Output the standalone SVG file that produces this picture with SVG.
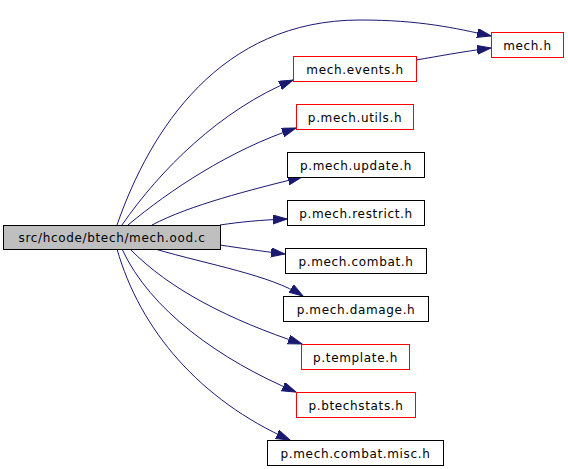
<svg xmlns="http://www.w3.org/2000/svg" width="568" height="469" viewBox="0 0 568 469">
<style>
.n rect{fill:#fff;stroke:#000;stroke-width:1}
.n.r rect{stroke:#f00}
.n.m rect{fill:#bfbfbf}
.n text{font-family:"DejaVu Sans",sans-serif;font-size:12px;letter-spacing:0.65px;text-anchor:middle;fill:#000}
.e path{fill:none;stroke:#191970;stroke-width:1;marker-end:url(#a)}
</style>
<defs>
<marker id="a" markerUnits="userSpaceOnUse" markerWidth="15" markerHeight="10" refX="14" refY="4.5" orient="auto" viewBox="0 0 15 10">
<path d="M0,0 L14,4.5 L0,9 z" fill="#191970" stroke="#191970"/>
</marker>
</defs>
<rect width="568" height="469" fill="#fff"/>
<g id="edges" class="e">
<path d="M117,225 C150,130 220,20 360,20 C420,20 455,28 491,36"/>
<path d="M122,225 C160,170 220,110 293,80"/>
<path d="M416,60 C440,56 460,52 491,48"/>
<path d="M128,225 C170,190 230,150 296,128"/>
<path d="M152,225 C190,205 250,190 302,177"/>
<path d="M220,225 C240,222 260,220 287,219"/>
<path d="M220,245 C240,248 260,251 285,254"/>
<path d="M155,249 C210,265 270,275 303,296"/>
<path d="M130,249 C170,290 230,320 302,344"/>
<path d="M122,249 C150,310 220,360 296,392"/>
<path d="M117,249 C140,330 200,400 290,440"/>
</g>
<g id="main" class="n m"><rect x="3.5" y="225.5" width="217" height="24"/><text x="112" y="242">src/hcode/btech/mech.ood.c</text></g>
<g id="mech_h" class="n r"><rect x="491.5" y="32.5" width="72" height="25"/><text x="527.5" y="49.5">mech.h</text></g>
<g id="mech_events_h" class="n r"><rect x="293.5" y="56.5" width="123" height="25"/><text x="355" y="73.5">mech.events.h</text></g>
<g id="p_mech_utils_h" class="n r"><rect x="296.5" y="104.5" width="117" height="25"/><text x="355" y="121.5">p.mech.utils.h</text></g>
<g id="p_mech_update_h" class="n"><rect x="287.5" y="152.5" width="137" height="25"/><text x="356" y="169.5">p.mech.update.h</text></g>
<g id="p_mech_restrict_h" class="n"><rect x="287.5" y="200.5" width="137" height="25"/><text x="356" y="217.5">p.mech.restrict.h</text></g>
<g id="p_mech_combat_h" class="n"><rect x="285.5" y="248.5" width="141" height="25"/><text x="356" y="265.5">p.mech.combat.h</text></g>
<g id="p_mech_damage_h" class="n"><rect x="283.5" y="296.5" width="145" height="25"/><text x="356" y="313.5">p.mech.damage.h</text></g>
<g id="p_template_h" class="n r"><rect x="301.5" y="344.5" width="108" height="25"/><text x="355.5" y="361.5">p.template.h</text></g>
<g id="p_btechstats_h" class="n r"><rect x="296.5" y="392.5" width="119" height="25"/><text x="356" y="409.5">p.btechstats.h</text></g>
<g id="p_mech_combat_misc_h" class="n"><rect x="267.5" y="440.5" width="176" height="25"/><text x="355.5" y="457.5">p.mech.combat.misc.h</text></g>
</svg>
